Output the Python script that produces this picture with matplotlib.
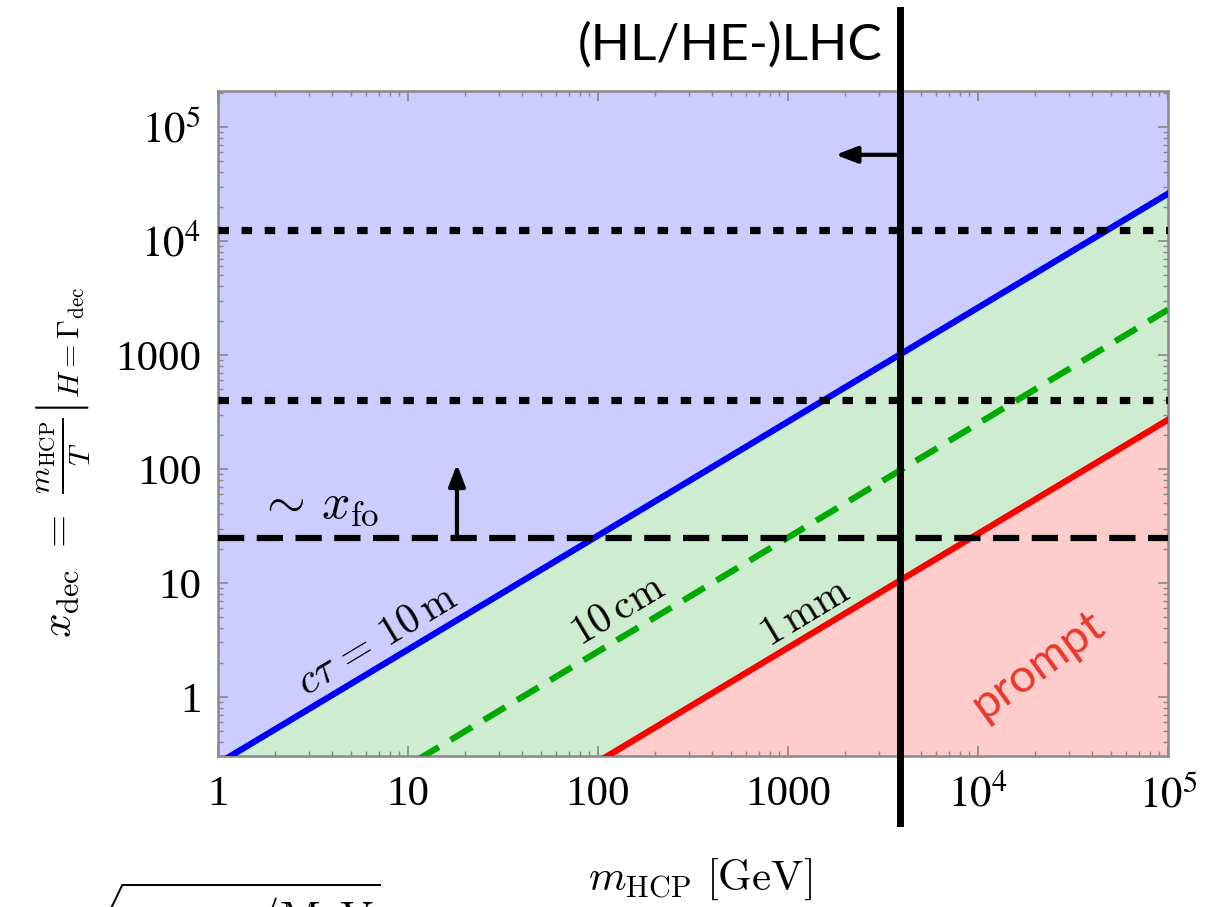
import numpy as np
import matplotlib
matplotlib.use('Agg')
import matplotlib.pyplot as plt

plt.rcParams['mathtext.fontset'] = 'cm'
plt.rcParams['font.family'] = 'Liberation Serif'

# data
m_edges = [1.0, 1.0e5]              # m_HCP [GeV]
x_blue = [0.26, 2.6e4]             # c tau = 10 m
x_green = [0.025, 2.5e3]           # c tau = 10 cm
x_red = [0.0027, 2.7e2]            # c tau = 1 mm
x_dotted = [1.25e4, 400.0]
x_fo = 25.0
m_lhc = 3900.0
y_lims = [0.303, 2.07e5]
x_lims = [1.0, 1.0e5]

xticks = [1, 10, 100, 1000, 1e4, 1e5]
xticklabels = ['1', '10', '100', '1000', r'$10^4$', r'$10^5$']
yticks = [1, 10, 100, 1000, 1e4, 1e5]
yticklabels = ['1', '10', '100', '1000', r'$10^4$', r'$10^5$']

fig = plt.figure(figsize=(12.07, 9.07), dpi=100)
ax = fig.add_axes([0.1806, 0.1665, 0.7871, 0.7332])
ax.set_xscale('log')
ax.set_yscale('log')
ax.set_xlim(x_lims)
ax.set_ylim(y_lims)

ax.fill_between(m_edges, x_blue, [y_lims[1]] * 2, color='#ccccff', lw=0, zorder=0)
ax.fill_between(m_edges, x_red, x_blue, color='#ceeccf', lw=0, zorder=0)
ax.fill_between(m_edges, [y_lims[0]] * 2, x_red, color='#ffcccc', lw=0, zorder=0)

ax.plot(m_edges, x_blue, color='#0000ff', lw=4.5, zorder=3)
ax.plot(m_edges, x_green, color='#00aa00', lw=4.5, dashes=(4.0, 2.2), zorder=3)
ax.plot(m_edges, x_red, color='#ff0000', lw=4.5, zorder=3)

for yv in x_dotted:
    ax.axhline(yv, color='black', lw=5.2, dashes=(1.45, 1.75), zorder=4)
ax.axhline(x_fo, color='black', lw=4.5, dashes=(4.2, 2.0), zorder=4)

ax.axvline(m_lhc, ymin=-0.101, ymax=1.122, color='black', lw=5, clip_on=False, zorder=6)

# arrows
ax.annotate('', xy=(18.1, 110), xytext=(18.1, x_fo),
            arrowprops=dict(arrowstyle='-|>,head_length=1.3,head_width=0.5', color='black', lw=3,
                            shrinkA=0, shrinkB=0), zorder=5)
ax.annotate('', xy=(1780, 5.7e4), xytext=(m_lhc, 5.7e4),
            arrowprops=dict(arrowstyle='-|>,head_length=1.3,head_width=0.5', color='black', lw=3,
                            shrinkA=0, shrinkB=0), zorder=5)

# text labels
ax.text(3.4, 48, r'$\sim\,x_{\rm fo}$', fontsize=36, ha='center', va='center', math_fontfamily='cm')
ax.text(6.9, 3.1, r'$c\tau\,=\,10\,{\rm m}$', fontsize=30, ha='center', va='center', rotation=31,
        math_fontfamily='cm')
ax.text(128, 5.6, r'$10\,{\rm cm}$', fontsize=30, ha='center', va='center', rotation=31,
        math_fontfamily='cm')
ax.text(1230, 5.45, r'$1\,{\rm mm}$', fontsize=30, ha='center', va='center', rotation=31,
        math_fontfamily='cm')
ax.text(2.07e4, 1.9, 'prompt', fontsize=34, ha='center', va='center', rotation=36,
        color='#e8382a', family='Lato')

fig.text(0.605, 0.950, '(HL/HE-)LHC', fontsize=37, ha='center', va='center', family='Lato')

# ticks and frame
ax.set_xticks(xticks)
ax.set_xticklabels(xticklabels)
ax.set_yticks(yticks)
ax.set_yticklabels(yticklabels)
for lab in ax.get_xticklabels() + ax.get_yticklabels():
    lab.set_math_fontfamily('stix')
    lab.set_fontsize(31)
ax.tick_params(which='both', direction='in', top=True, right=True, color='#888888')
ax.tick_params(which='major', length=7, width=1.2, pad=14)
ax.tick_params(which='minor', length=3.5, width=1.0)
ax.tick_params(axis='y', pad=12)
for sp in ax.spines.values():
    sp.set_color('#888888')
    sp.set_linewidth(1.8)

fig.text(0.58, 0.030, r'$m_{\rm HCP}\ [{\rm GeV}]$', fontsize=31, ha='center', va='center')
fig.text(0.052, 0.49, r'$x_{\rm dec}\ =\ \left.\frac{m_{\rm HCP}}{T}\right|_{H=\Gamma_{\rm dec}}$',
         fontsize=31, ha='center', va='center', rotation=90)

# fragment of the next equation, cut by the bottom edge as in the reference
fig.text(0.060, -0.029, r'$\sqrt{\quad\quad\quad\ /{\rm MeV}}$', fontsize=32, ha='left', va='baseline')

fig.savefig('out.png', dpi=100)
